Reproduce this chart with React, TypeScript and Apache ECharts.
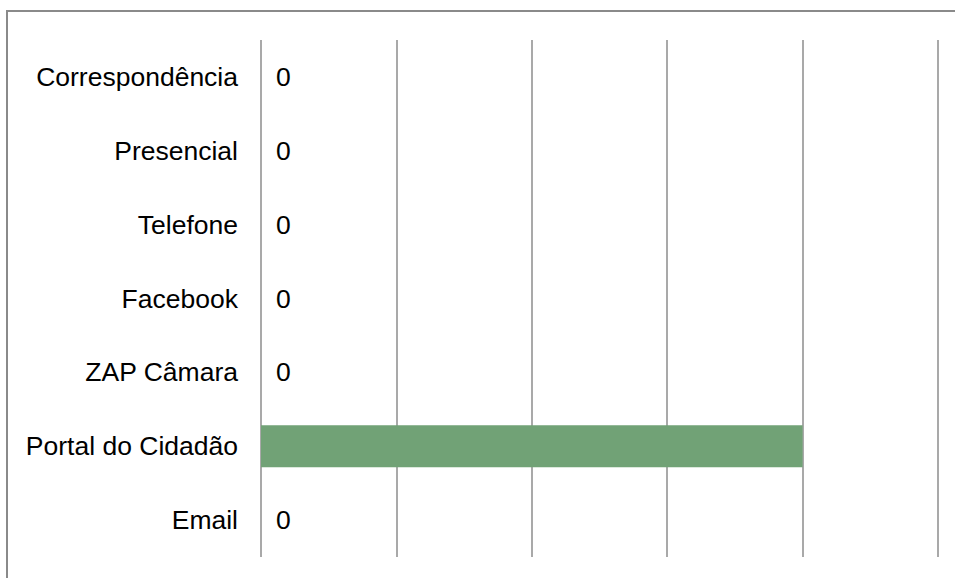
import React, { useEffect, useRef } from "react";
import * as echarts from "echarts";

const categories = [
  "Email",
  "Portal do Cidadão",
  "ZAP Câmara",
  "Facebook",
  "Telefone",
  "Presencial",
  "Correspondência",
];
const values = [0, 4, 0, 0, 0, 0, 0];
const xMax = 5;
const xInterval = 1;

export default function App() {
  const ref = useRef<HTMLDivElement>(null);
  useEffect(() => {
    if (!ref.current) return;
    const chart = echarts.init(ref.current, null, { renderer: "svg" });
    chart.setOption({
      animation: false,
      backgroundColor: "#ffffff",
      graphic: [
        {
          type: "rect",
          shape: { x: 7, y: 11, width: 1200, height: 1000 },
          style: { fill: "none", stroke: "#8a8a8a", lineWidth: 2 },
          silent: true,
        },
      ],
      grid: { left: 261, right: 17, top: 40, bottom: 21, containLabel: false },
      xAxis: {
        type: "value",
        min: 0,
        max: xMax,
        interval: xInterval,
        axisLabel: { show: false },
        axisLine: { show: false },
        axisTick: { show: false },
        splitLine: { show: true, lineStyle: { color: "#8c8c8c", width: 1.5 } },
      },
      yAxis: {
        type: "category",
        data: categories,
        axisLine: { show: false },
        axisTick: { show: false },
        axisLabel: {
          margin: 23,
          fontSize: 26.5,
          color: "#000000",
          fontFamily: "Liberation Sans, Arial, sans-serif",
        },
      },
      series: [
        {
          type: "bar",
          data: values,
          barCategoryGap: "43%",
          itemStyle: { color: "#71a276" },
          label: {
            show: true,
            position: "right",
            distance: 15,
            fontSize: 26.5,
            color: "#000000",
            fontFamily: "Liberation Sans, Arial, sans-serif",
            formatter: (p: any) => (p.value === 0 ? "0" : ""),
          },
        },
      ],
    });
    return () => chart.dispose();
  }, []);
  return (
    <div
      ref={ref}
      style={{ position: "absolute", left: 0, top: 0, width: 955, height: 578 }}
    />
  );
}
